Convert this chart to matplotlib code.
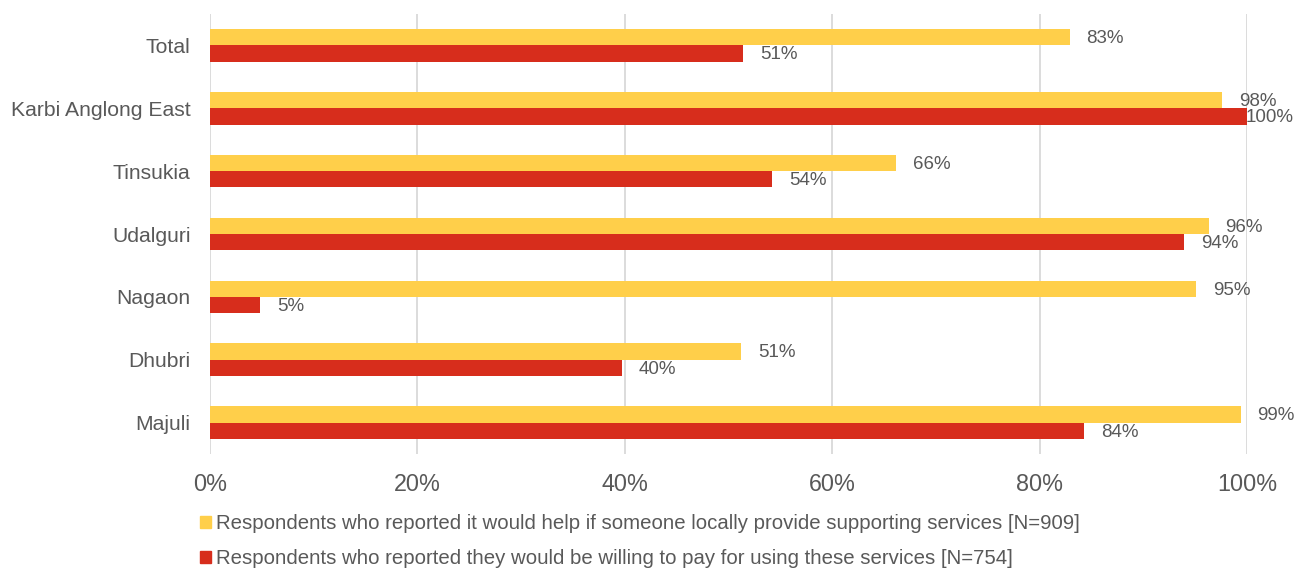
import numpy as np
import matplotlib
matplotlib.use("Agg")
import matplotlib.pyplot as plt
from matplotlib.patches import Patch

categories = ["Total", "Karbi Anglong East", "Tinsukia", "Udalguri",
              "Nagaon", "Dhubri", "Majuli"]
help_vals = [82.9, 97.6, 66.2, 96.3, 95.1, 51.2, 99.4]
pay_vals = [51.4, 100.0, 54.2, 93.9, 4.8, 39.7, 84.3]
help_label = "Respondents who reported it would help if someone locally provide supporting services [N=909]"
pay_label = "Respondents who reported they would be willing to pay for using these services [N=754]"

YELLOW = "#FFCF4A"
RED = "#D72D1C"
TEXT = "#595959"
GRID = "#D9D9D9"

plt.rcParams["font.family"] = ["Liberation Sans", "DejaVu Sans"]

fig = plt.figure(figsize=(13, 5.71), dpi=100)
ax = fig.add_axes([210 / 1300, 1 - 454 / 571, 1037 / 1300, 440 / 571])

y = np.arange(len(categories))
h = 0.26
bars_help = ax.barh(y - h / 2, help_vals, height=h, color=YELLOW, zorder=3)
bars_pay = ax.barh(y + h / 2, pay_vals, height=h, color=RED, zorder=3)

ax.set_xlim(0, 100)
ax.set_ylim(len(categories) - 0.5, -0.5)
ax.set_xticks(np.arange(0, 101, 20))
ax.set_xticklabels([f"{v}%" for v in range(0, 101, 20)])
ax.set_yticks(y)
ax.set_yticklabels(categories)
ax.tick_params(axis="x", length=0, pad=14, labelsize=16.8, labelcolor=TEXT)
ax.tick_params(axis="y", length=0, pad=14, labelsize=15.2, labelcolor=TEXT)
ax.grid(axis="x", color=GRID, linewidth=1.3, zorder=0)
for s in ax.spines.values():
    s.set_visible(False)

# value labels outside bar ends, pushed back inside the figure if needed
labels = []
for bars, vals in ((bars_help, help_vals), (bars_pay, pay_vals)):
    for b, v in zip(bars, vals):
        t = ax.annotate(f"{round(v):.0f}%", (b.get_width(), b.get_y() + b.get_height() / 2),
                        xytext=(12.2, -1), textcoords="offset points",
                        ha="left", va="center", fontsize=13.5, color=TEXT)
        labels.append(t)

fig.canvas.draw()
r = fig.canvas.get_renderer()
for t in labels:
    ext = t.get_window_extent(r)
    limit = 1294
    if ext.x1 > limit:
        dx = (ext.x1 - limit) * 72 / fig.dpi
        x0, y0 = t.xyann
        t.xyann = (x0 - dx, y0)

handles = [Patch(color=YELLOW), Patch(color=RED)]
fig.legend(handles, [help_label, pay_label], loc="upper left",
           bbox_to_anchor=(192 / 1300, 1 - 506 / 571), frameon=False,
           fontsize=14.7, labelcolor=TEXT, handlelength=0.54, handleheight=0.54,
           handletextpad=0.25, labelspacing=0.8, borderaxespad=0)

fig.savefig("out.png", dpi=100)
